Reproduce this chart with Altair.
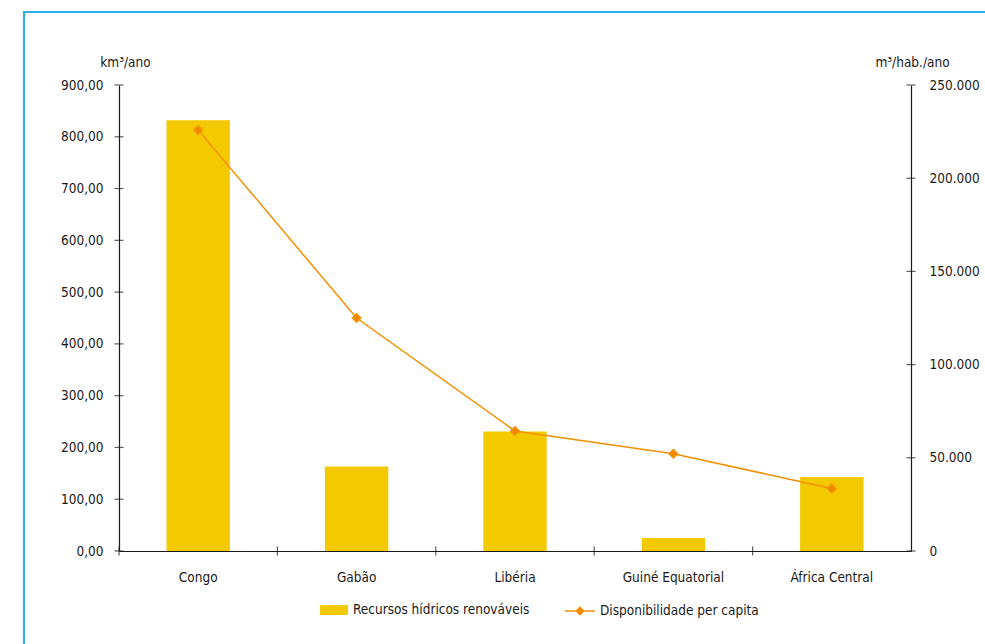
import altair as alt
import pandas as pd

# Series
categorias = ["Congo", "Gabão", "Libéria", "Guiné Equatorial", "África Central"]
recursos_km3 = [832, 163, 231, 25, 143]          # km³/ano
per_capita = [225900, 125000, 64400, 52200, 33500]  # m³/hab./ano

# Axis tick values
ticks_km3 = [0, 100, 200, 300, 400, 500, 600, 700, 800, 900]
ticks_hab = [0, 50000, 100000, 150000, 200000, 250000]

SERIE_BAR = "Recursos hídricos renováveis"
SERIE_LINE = "Disponibilidade per capita"

YELLOW = "#F5C900"
ORANGE = "#F29000"
FRAME = "#2DAEE4"
INK = "#1a1a1a"
FONT = "DejaVu Sans Condensed, Liberation Sans, sans-serif"
FS = 13.5

W, H = 792, 466

df = pd.DataFrame({"pais": categorias, "recursos": recursos_km3, "per_capita": per_capita})
df_tl = pd.DataFrame({"v": ticks_km3})
df_tr = pd.DataFrame({"v": ticks_hab})

x_scale = alt.Scale(type="band", domain=categorias, paddingInner=0, paddingOuter=0)
y_left = alt.Scale(domain=[0, 900], nice=False, zero=True)
y_right = alt.Scale(domain=[0, 250000], nice=False, zero=True)

axis_style = dict(
    ticks=False,
    labelFont=FONT,
    labelFontSize=FS,
    labelColor=INK,
    domainColor=INK,
    domainWidth=1.2,
    grid=False,
)
title_style = dict(
    titleAngle=0,
    titleAlign="center",
    titleBaseline="alphabetic",
    titleY=-19,
    titleFont=FONT,
    titleFontSize=FS,
    titleFontWeight="normal",
    titleColor=INK,
)

x_axis = alt.Axis(title=None, labelAngle=0, labelPadding=19, **axis_style)
yl_axis = alt.Axis(
    values=ticks_km3,
    format=".2f",
    labelExpr="replace(datum.label, '.', ',')",
    labelPadding=16,
    title="km³/ano",
    titleX=6,
    **axis_style,
    **title_style,
)
yr_axis = alt.Axis(
    orient="right",
    values=ticks_hab,
    format=",d",
    labelExpr="replace(datum.label, ',', '.')",
    labelPadding=18,
    title="m³/hab./ano",
    titleX=1,
    **axis_style,
    **title_style,
)

legend_common = dict(
    title=None,
    orient="none",
    direction="horizontal",
    symbolSize=900,
    labelOffset=4,
    labelLimit=400,
    labelFont=FONT,
    labelFontSize=FS,
    labelColor=INK,
    symbolOpacity=1,
)

fill_enc = alt.Fill(
    "serie:N",
    scale=alt.Scale(domain=[SERIE_BAR], range=[YELLOW]),
    legend=alt.Legend(
        legendX=200,
        legendY=510,
        symbolType="M-0.93,-0.33H0.93V0.33H-0.93Z",
        symbolStrokeWidth=0,
        **legend_common,
    ),
)

stroke_enc = alt.Stroke(
    "serie:N",
    scale=alt.Scale(domain=[SERIE_LINE], range=[ORANGE]),
    legend=alt.Legend(
        legendX=445,
        legendY=510,
        symbolType="M-1,0H1M0,-0.25L0.25,0L0,0.25L-0.25,0Z",
        symbolStrokeWidth=1.5,
        symbolFillColor=ORANGE,
        **legend_common,
    ),
)

bars = (
    alt.Chart(df)
    .transform_calculate(serie="'" + SERIE_BAR + "'")
    .mark_bar(width=alt.RelativeBandSize(0.4))
    .encode(
        x=alt.X("pais:N", sort=categorias, scale=x_scale, axis=x_axis),
        y=alt.Y("recursos:Q", scale=y_left, axis=yl_axis),
        fill=fill_enc,
    )
)

# crossing tick marks on the category axis (band boundaries)
x_ticks = (
    alt.Chart(df)
    .mark_tick(orient="vertical", color=INK, thickness=1.2, size=9)
    .encode(
        x=alt.X("pais:N", sort=categorias, scale=x_scale, bandPosition=0, axis=x_axis),
        y=alt.value(H),
    )
)

# crossing tick marks on the left axis
yl_ticks = (
    alt.Chart(df_tl)
    .mark_tick(orient="horizontal", color=INK, thickness=1.2, size=9)
    .encode(y=alt.Y("v:Q", scale=y_left, axis=yl_axis), x=alt.value(0))
)

# light blue frame around the figure
frame = alt.layer(
    alt.Chart(alt.Data(values=[{}])).mark_rule(color=FRAME, strokeWidth=2.2).encode(
        x=alt.value(-95), y=alt.value(-74), y2=alt.value(H + 93)
    ),
    alt.Chart(alt.Data(values=[{}])).mark_rule(color=FRAME, strokeWidth=2.2).encode(
        x=alt.value(-96), x2=alt.value(W + 74), y=alt.value(-73)
    ),
)

line = (
    alt.Chart(df)
    .transform_calculate(serie="'" + SERIE_LINE + "'")
    .mark_line(
        strokeWidth=1.5,
        point=alt.OverlayMarkDef(shape="diamond", size=60, filled=True, fill="#EE8400", opacity=1),
    )
    .encode(
        x=alt.X("pais:N", sort=categorias, scale=x_scale, bandPosition=0.5, axis=x_axis),
        y=alt.Y("per_capita:Q", scale=y_right, axis=yr_axis),
        stroke=stroke_enc,
    )
)

# crossing tick marks on the right axis
yr_ticks = (
    alt.Chart(df_tr)
    .mark_tick(orient="horizontal", color=INK, thickness=1.2, size=9)
    .encode(y=alt.Y("v:Q", scale=y_right, axis=yr_axis), x=alt.value(W))
)

left = alt.layer(frame, bars, x_ticks, yl_ticks)
right = alt.layer(line, yr_ticks)

chart = (
    alt.layer(left, right)
    .resolve_scale(y="independent")
    .properties(
        width=W,
        height=H,
        autosize=alt.AutoSizeParams(type="none"),
        padding={"left": 119, "top": 85, "right": 74, "bottom": 93},
        background="white",
    )
    .configure_view(stroke=None)
)

chart.save("out.html", embed_options={"renderer": "svg", "actions": False})
